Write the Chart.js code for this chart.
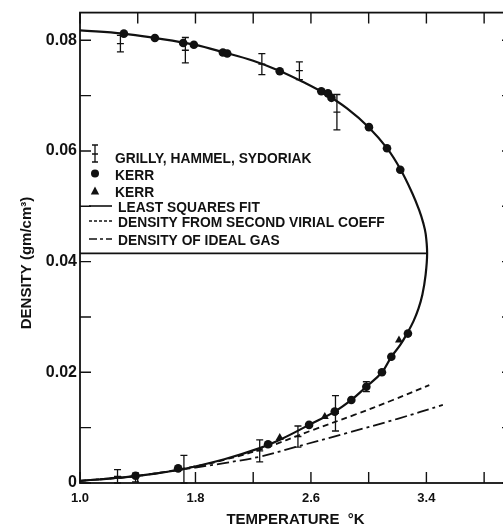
<!DOCTYPE html>
<html>
<head>
<meta charset="utf-8">
<title>He3 coexistence curve</title>
<script src="https://cdn.jsdelivr.net/npm/chart.js@4/dist/chart.umd.min.js"></script>
<style>
  html, body { margin: 0; padding: 0; background: #fff; overflow: hidden; width: 503px; height: 525px; }
  #wrap { position: relative; width: 525px; height: 525px; }
</style>
</head>
<body>
<div id="wrap"><canvas id="chart" width="525" height="525"></canvas></div>
<script>
// Grilly, Hammel, Sydoriak measurements (temperature K, density g/cm3, half error)
const grillyT   = [1.28, 1.73, 2.26, 2.52, 2.78, 1.26, 1.385, 1.72, 2.245, 2.51, 2.77, 2.984];
const grillyRho = [0.0794, 0.0782, 0.0757, 0.0745, 0.0670, 0.0012, 0.0010, 0.0025, 0.0058, 0.0084, 0.0126, 0.0174];
const grillyErr = [0.0015, 0.0023, 0.0019, 0.0016, 0.0032, 0.0012, 0.0008, 0.0025, 0.0020, 0.0019, 0.0032, 0.0009];

// Kerr, circles
const kerrT   = [1.304, 1.519, 1.715, 1.789, 1.99, 2.02, 2.384, 2.672, 2.718, 2.742, 3.002, 3.127, 3.219,
                 1.385, 1.680, 2.303, 2.587, 2.765, 2.880, 2.984, 3.092, 3.157, 3.272];
const kerrRho = [0.0812, 0.0804, 0.0795, 0.0792, 0.0778, 0.0776, 0.0744, 0.0708, 0.0704, 0.0696, 0.0643, 0.0605, 0.0566,
                 0.0013, 0.00265, 0.0070, 0.0105, 0.0129, 0.0150, 0.0174, 0.0200, 0.0228, 0.0270];

// Kerr, triangles
const kerr2T   = [2.384, 2.696, 3.210];
const kerr2Rho = [0.0082, 0.0120, 0.0258];

// Least squares fit: liquid branch down to the critical point, then vapour branch back
const fitT   = [1.00, 1.30, 1.52, 1.79, 2.00, 2.20, 2.38, 2.55, 2.70, 2.85, 3.00, 3.127, 3.22, 3.30, 3.35, 3.378, 3.395, 3.405,
                3.394, 3.372, 3.345, 3.31, 3.27, 3.22, 3.157, 3.092, 2.984, 2.88, 2.765, 2.587, 2.40, 2.245, 2.00, 1.69, 1.40, 1.20, 1.00];
const fitRho = [0.0818, 0.0812, 0.0804, 0.0792, 0.0778, 0.0763, 0.0745, 0.0724, 0.0703, 0.0677, 0.0643, 0.0605, 0.0567, 0.0525, 0.0493, 0.0470, 0.0450, 0.0415,
                0.0375, 0.0340, 0.0315, 0.0292, 0.0272, 0.0250, 0.0228, 0.0200, 0.0174, 0.0150, 0.0129, 0.0105, 0.0080, 0.0063, 0.0043, 0.0024, 0.0013, 0.0008, 0.0004];

// Critical density tie line
const tieT   = [1.0, 3.405];
const tieRho = [0.0415, 0.0415];

// Vapour density from the second virial coefficient
const virialT   = [1.0, 1.4, 1.8, 2.0, 2.245, 2.615, 2.9, 3.168, 3.42];
const virialRho = [0.0004, 0.0013, 0.0030, 0.0042, 0.0060, 0.0096, 0.0123, 0.0150, 0.0177];

// Vapour density of an ideal gas
const idealT   = [1.0, 1.4, 1.8, 2.0, 2.246, 2.50, 2.846, 3.2, 3.514];
const idealRho = [0.0004, 0.0013, 0.0028, 0.0036, 0.00475, 0.00655, 0.0090, 0.0116, 0.0141];

// Axis ticks
const xTicks = [1.0, 1.4, 1.8, 2.2, 2.6, 3.0, 3.4, 3.8];
const xTickLabels = ['1.0', '', '1.8', '', '2.6', '', '3.4', ''];
const yTicks = [0, 0.01, 0.02, 0.03, 0.04, 0.05, 0.06, 0.07, 0.08];
const yTickLabels = ['0', '', '0.02', '', '0.04', '', '0.06', '', '0.08'];

const xTitle = 'TEMPERATURE  \u00B0K';
const yTitle = 'DENSITY (gm/cm\u00B3)';

const INK = '#111';
const pts = (xs, ys) => xs.map((v, i) => ({ x: v, y: ys[i] }));

const datasets = [
  { label: 'GRILLY, HAMMEL, SYDORIAK', data: pts(grillyT, grillyRho), showLine: false,
    pointStyle: 'line', pointRadius: 3.5, borderColor: INK, borderWidth: 1.3, backgroundColor: INK },
  { label: 'KERR', data: pts(kerrT, kerrRho), showLine: false,
    pointStyle: 'circle', pointRadius: 4.3, borderWidth: 0, backgroundColor: INK, borderColor: INK },
  { label: 'KERR', data: pts(kerr2T, kerr2Rho), showLine: false,
    pointStyle: 'triangle', pointRadius: 4.6, borderWidth: 0, backgroundColor: INK, borderColor: INK },
  { label: 'LEAST SQUARES FIT', data: pts(fitT, fitRho), showLine: true, tension: 0.4,
    pointRadius: 0, borderColor: INK, borderWidth: 2.2, fill: false },
  { label: '', data: pts(tieT, tieRho), showLine: true, tension: 0,
    pointRadius: 0, borderColor: INK, borderWidth: 1.8, fill: false },
  { label: 'DENSITY FROM SECOND VIRIAL COEFF', data: pts(virialT, virialRho), showLine: true, tension: 0.4,
    pointRadius: 0, borderColor: INK, borderWidth: 1.8, borderDash: [6, 4], fill: false },
  { label: 'DENSITY OF IDEAL GAS', data: pts(idealT, idealRho), showLine: true, tension: 0.4,
    pointRadius: 0, borderColor: INK, borderWidth: 1.8, borderDash: [12, 4, 3, 4], fill: false }
];

// vertical error bars with end caps for the Grilly et al. points
const errorBars = {
  id: 'errorBars',
  afterDatasetsDraw(chart) {
    const { ctx, scales: { x, y } } = chart;
    ctx.save();
    ctx.strokeStyle = INK;
    ctx.lineWidth = 1.3;
    grillyT.forEach((t, i) => {
      const px = x.getPixelForValue(t);
      const top = y.getPixelForValue(grillyRho[i] + grillyErr[i]);
      const bot = y.getPixelForValue(Math.max(0, grillyRho[i] - grillyErr[i]));
      ctx.beginPath();
      ctx.moveTo(px, top); ctx.lineTo(px, bot);
      ctx.moveTo(px - 3.5, top); ctx.lineTo(px + 3.5, top);
      ctx.moveTo(px - 3.5, bot); ctx.lineTo(px + 3.5, bot);
      ctx.stroke();
    });
    ctx.restore();
  }
};

// boxed frame with inward tick marks on all four sides
const frame = {
  id: 'frame',
  afterDraw(chart) {
    const { ctx, chartArea: a, scales: { x, y } } = chart;
    const len = 11;
    ctx.save();
    ctx.strokeStyle = INK;
    ctx.lineWidth = 1.8;
    ctx.strokeRect(a.left, a.top, a.right - a.left, a.bottom - a.top);
    ctx.lineWidth = 1.4;
    ctx.beginPath();
    x.ticks.forEach(t => {
      const px = x.getPixelForValue(t.value);
      ctx.moveTo(px, a.bottom); ctx.lineTo(px, a.bottom - len);
      ctx.moveTo(px, a.top); ctx.lineTo(px, a.top + len);
    });
    y.ticks.forEach(t => {
      const py = y.getPixelForValue(t.value);
      ctx.moveTo(a.left, py); ctx.lineTo(a.left + len, py);
      ctx.moveTo(a.right, py); ctx.lineTo(a.right - len, py);
    });
    ctx.stroke();

    // axis titles
    ctx.fillStyle = INK;
    ctx.font = "bold 15px 'Liberation Sans', sans-serif";
    ctx.textAlign = 'center';
    ctx.textBaseline = 'alphabetic';
    ctx.fillText(xTitle, (a.left + a.right) / 2 - 1, 524);
    ctx.save();
    ctx.translate(31, 263);
    ctx.rotate(-Math.PI / 2);
    ctx.font = "bold 15px 'Liberation Sans', sans-serif";
    ctx.fillText(yTitle, 0, 0);
    ctx.restore();
    ctx.restore();
  }
};

// key in the upper left of the plot
const key = {
  id: 'key',
  afterDraw(chart) {
    const { ctx } = chart;
    const ds = chart.data.datasets;
    const sx = 95, l0 = 89, l1 = 112;
    ctx.save();
    ctx.fillStyle = INK;
    ctx.strokeStyle = INK;
    ctx.font = "bold 13.8px 'Liberation Sans', sans-serif";
    ctx.textAlign = 'left';
    ctx.textBaseline = 'alphabetic';

    // error bar symbol
    ctx.lineWidth = 1.3;
    ctx.beginPath();
    ctx.moveTo(sx, 145); ctx.lineTo(sx, 162);
    ctx.moveTo(sx - 3, 145); ctx.lineTo(sx + 3, 145);
    ctx.moveTo(sx - 3, 162); ctx.lineTo(sx + 3, 162);
    ctx.moveTo(sx - 3, 154); ctx.lineTo(sx + 3, 154);
    ctx.stroke();
    ctx.fillText(ds[0].label, 115, 163);

    // circle
    ctx.beginPath(); ctx.arc(sx, 173.5, 4, 0, Math.PI * 2); ctx.fill();
    ctx.fillText(ds[1].label, 115, 179.5);

    // triangle
    ctx.beginPath();
    ctx.moveTo(sx, 186.5); ctx.lineTo(sx + 4.2, 194.5); ctx.lineTo(sx - 4.2, 194.5); ctx.closePath(); ctx.fill();
    ctx.fillText(ds[2].label, 115, 197);

    // line samples
    const lineRow = (y, dash, text) => {
      ctx.setLineDash(dash);
      ctx.lineWidth = 1.6;
      ctx.beginPath(); ctx.moveTo(l0, y); ctx.lineTo(l1, y); ctx.stroke();
      ctx.setLineDash([]);
      ctx.fillText(text, 118, y + 6);
    };
    lineRow(206, [], ds[3].label);
    lineRow(221, [3, 2], ds[5].label);
    lineRow(239, [8, 3, 3, 3], ds[6].label);
    ctx.restore();
  }
};

new Chart(document.getElementById('chart'), {
  type: 'scatter',
  data: { datasets },
  options: {
    responsive: false,
    animation: false,
    events: [],
    layout: { padding: { top: 12, right: 12, left: 0, bottom: 0 } },
    plugins: { legend: { display: false }, tooltip: { enabled: false } },
    scales: {
      x: {
        type: 'linear', min: 1.0, max: 4.0,
        afterFit(s) { s.height = 42; },
        afterBuildTicks(s) { s.ticks = xTicks.map(v => ({ value: v })); },
        grid: { display: false, drawTicks: false },
        border: { display: false },
        ticks: {
          autoSkip: false, maxRotation: 0, padding: 8, color: INK,
          font: { family: "'Liberation Sans', sans-serif", size: 13, weight: 'bold' },
          callback: (v, i) => xTickLabels[i]
        }
      },
      y: {
        type: 'linear', min: 0, max: 0.085,
        afterFit(s) { s.width = 80; },
        afterBuildTicks(s) { s.ticks = yTicks.map(v => ({ value: v })); },
        grid: { display: false, drawTicks: false },
        border: { display: false },
        ticks: {
          autoSkip: false, padding: 3, color: INK,
          font: { family: "'Liberation Sans', sans-serif", size: 16, weight: 'bold' },
          callback: (v, i) => yTickLabels[i]
        }
      }
    }
  },
  plugins: [errorBars, frame, key]
});
</script>
</body>
</html>
